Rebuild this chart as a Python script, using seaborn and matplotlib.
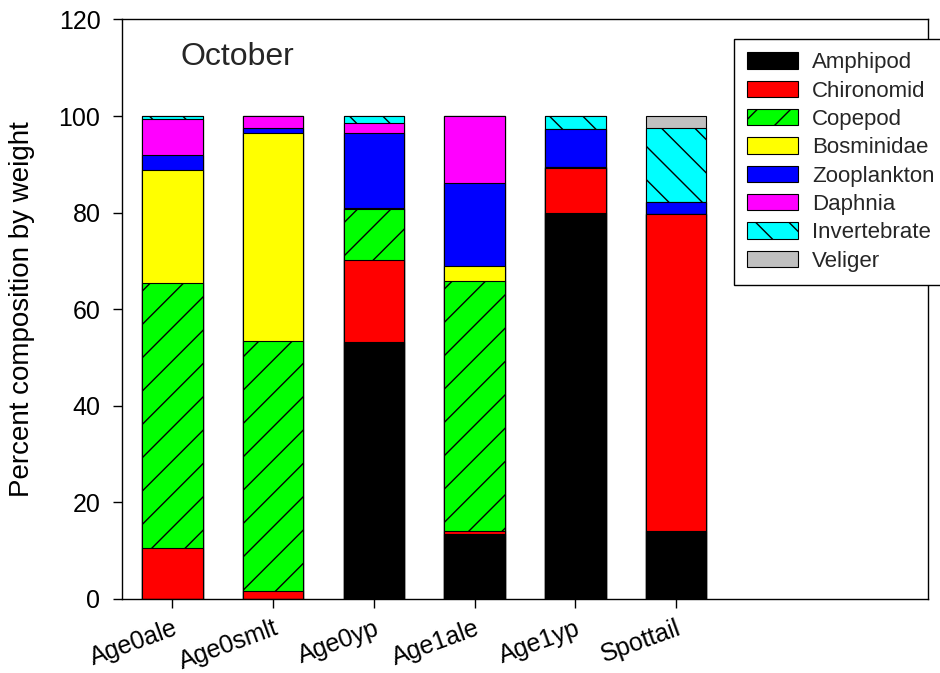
import matplotlib
matplotlib.use("Agg")
import matplotlib.pyplot as plt
import seaborn as sns
import numpy as np
from matplotlib.patches import Patch

# fish groups (x categories)
fish = ["Age0ale", "Age0smlt", "Age0yp", "Age1ale", "Age1yp", "Spottail"]

# prey items, bottom -> top in each stacked bar
prey = ["Amphipod", "Chironomid", "Copepod", "Bosminidae",
        "Zooplankton", "Daphnia", "Invertebrate", "Veliger"]

# percent composition by weight
amphipod     = [0.0, 0.0, 53.3, 13.5, 79.9, 14.0]
chironomid   = [10.5, 1.6, 16.8, 0.5, 9.3, 65.8]
copepod      = [54.9, 51.8, 10.6, 51.8, 0.2, 0.0]
bosminidae   = [23.5, 43.2, 0.3, 3.1, 0.0, 0.0]
zooplankton  = [3.1, 1.0, 15.4, 17.2, 8.0, 2.5]
daphnia      = [7.3, 2.4, 2.1, 13.9, 0.0, 0.0]
invertebrate = [0.7, 0.0, 1.5, 0.0, 2.6, 15.2]
veliger      = [0.0, 0.0, 0.0, 0.0, 0.0, 2.5]

values = [amphipod, chironomid, copepod, bosminidae,
          zooplankton, daphnia, invertebrate, veliger]
colors = ["#000000", "#FF0000", "#00FF00", "#FFFF00",
          "#0000FF", "#FF00FF", "#00FFFF", "#C0C0C0"]
hatches = [None, None, "/", None, None, None, "\\", None]

sns.set_theme(style="ticks")
plt.rcParams["font.family"] = ["Liberation Sans", "DejaVu Sans"]
plt.rcParams["hatch.linewidth"] = 1.0
plt.rcParams["hatch.color"] = "black"

fig = plt.figure(figsize=(9.4, 6.73), dpi=100)
ax = fig.add_axes([122 / 940, 1 - 599 / 673, (928 - 122) / 940, (599 - 19.5) / 673])

# stacked bars: draw cumulative totals from the top layer down
cum = np.cumsum(np.array(values), axis=0)
for i in range(len(prey) - 1, -1, -1):
    sns.barplot(x=fish, y=cum[i], color=colors[i], saturation=1,
                width=0.6, edgecolor="black", linewidth=0.8,
                hatch=hatches[i], errorbar=None, ax=ax)

ax.set_xlim(-0.5, 7.5)
ax.set_ylim(0, 120)
ax.set_yticks(range(0, 121, 20))
ax.set_xticks(range(len(fish)))
ax.set_xticklabels(fish, rotation=20, ha="right", va="top",
                   rotation_mode="anchor")
for s in ax.spines.values():
    s.set_color("black")
    s.set_linewidth(1.0)
ax.tick_params(axis="both", direction="out", length=6.5, width=1,
               color="black", labelsize=18, labelcolor="black")
ax.tick_params(axis="y", pad=9)
ax.tick_params(axis="x", pad=6)

ax.set_xlabel("")
ax.set_ylabel("Percent composition by weight", fontsize=20, color="black")
ax.yaxis.set_label_coords(-0.108, 0.5)

ax.text(0.08, 112.3, "October", fontsize=23, va="center", ha="left")

handles = [Patch(facecolor=c, edgecolor="black", linewidth=0.8, hatch=h)
           for c, h in zip(colors, hatches)]
leg = ax.legend(handles, prey, loc="upper left",
                bbox_to_anchor=(734 / 940, 1 - 39 / 673),
                bbox_transform=fig.transFigure, fontsize=16,
                frameon=True, fancybox=False, framealpha=1,
                edgecolor="black", borderaxespad=0, borderpad=0.6,
                labelspacing=0.33, handlelength=2.3, handleheight=0.76,
                handletextpad=0.6)
leg.get_frame().set_linewidth(1.0)

fig.savefig("out.png", dpi=100)
